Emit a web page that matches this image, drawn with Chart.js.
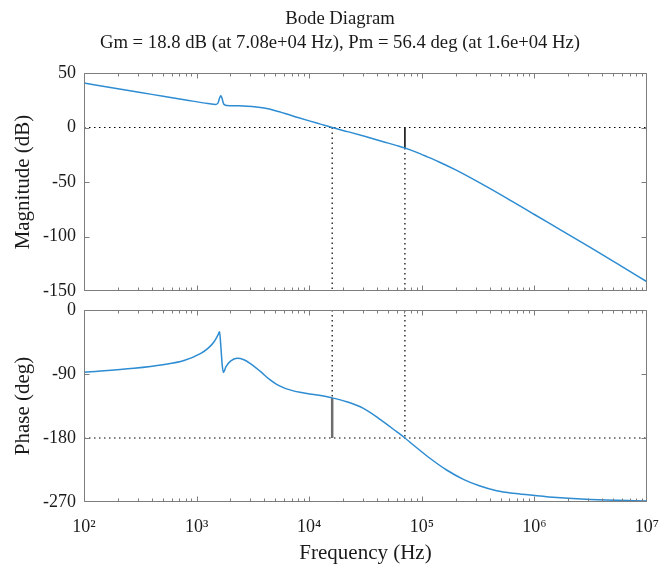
<!DOCTYPE html>
<html>
<head>
<meta charset="utf-8">
<script src="https://cdn.jsdelivr.net/npm/chart.js@4.4.0/dist/chart.umd.min.js"></script>
<style>
html,body{margin:0;padding:0;background:#fff;overflow:hidden;width:659px;height:565px;}
#wrap{position:relative;width:659px;height:565px;overflow:hidden;background:#fff;}
#c1{position:absolute;left:0;top:0;}
#c2{position:absolute;left:0;top:290px;}
</style>
</head>
<body>
<div id="wrap">
<canvas id="c1" width="680" height="320"></canvas>
<canvas id="c2" width="680" height="275"></canvas>
</div>
<script>
// ---------- data ----------
const titleLines = ['Bode Diagram', 'Gm = 18.8 dB (at 7.08e+04 Hz), Pm = 56.4 deg (at 1.6e+04 Hz)'];

const magFreqHz = [100,200,400,800,1260,1480,1550,1600,1640,1680,1740,1860,2240,2820,3390,3980,5010,6310,7940,10000,12600,16000,22400,31600,44700,60300,70800,89100,112000,141000,200000,316000,562000,1000000,1780000,3160000,5620000,10000000];
const magDb = [40.8,35.5,30.4,25.3,22.0,21.2,22.5,27,29.2,27,21.5,20.2,19.9,19.6,18.9,17.8,15.4,12.4,9.2,6.1,3.1,0,-4.0,-8.3,-12.8,-16.6,-18.8,-22.6,-26.9,-31.4,-38.9,-49.9,-64.5,-79.8,-95,-110.3,-125.8,-141.5];

const phaseFreqHz = [100,278,501,773,1090,1260,1430,1550,1600,1640,1690,1730,1820,2000,2290,2630,2980,3660,4470,5140,5970,6750,8280,11700,16000,21500,30300,42600,59800,70800,84100,118000,166000,234000,329000,462000,650000,914000,1580000,3160000,10000000];
const phaseDeg = [-87.7,-82,-77,-71,-61,-54,-44.6,-35,-30.5,-50,-78,-88,-80,-72,-68,-70,-75,-86,-98,-104.5,-109.5,-112.3,-115.8,-119.5,-123.6,-129,-138.3,-153.7,-171.1,-180,-189.8,-208.5,-225,-238.1,-247.5,-254.1,-257.8,-260.2,-263.8,-266.5,-268.6];

const xTickHz = [1e2,1e3,1e4,1e5,1e6,1e7];
const xTickLabels = ['10\u00B2','10\u00B3','10\u2074','10\u2075','10\u2076','10\u2077'];
const magTicks = [-150,-100,-50,0,50];
const phaseTicks = [-270,-180,-90,0];

const gmDb = 18.8, gmFreqHz = 70800;
const pmDeg = 56.4, pmFreqHz = 16000;
const phaseRef = -180;

// ---------- styling ----------
const SERIF = "'Liberation Serif','Times New Roman','DejaVu Serif',serif";
const TXT = '#1a1a1a';
const AX = '#7d7d7d';
const CURVE = 'rgb(45,140,210)';
const DOT = {borderColor:'#000', borderWidth:1.2, borderDash:[1.5,3.5], pointRadius:0, fill:false};

const frame = {
  id: 'frame',
  afterDraw(chart) {
    const {ctx, chartArea: a} = chart;
    const xs = chart.scales.x, ys = chart.scales.y;
    const L = Math.round(a.left) + 0.5, R = Math.round(a.right) - 0.5;
    const T = Math.round(a.top) + 0.5, B = Math.round(a.bottom) - 0.5;
    const cx = p => Math.min(Math.max(p, L), R);
    const cy = p => Math.min(Math.max(p, T), B);
    ctx.save();
    ctx.strokeStyle = AX;
    ctx.lineWidth = 1;
    ctx.beginPath();
    ctx.rect(L, T, R - L, B - T);
    const majors = xs.ticks.map(t => t.value);
    majors.forEach((v, i) => {
      const px = cx(Math.round(xs.getPixelForValue(v)) + 0.5);
      ctx.moveTo(px, B); ctx.lineTo(px, B - 5);
      ctx.moveTo(px, T); ctx.lineTo(px, T + 5);
      if (i < majors.length - 1) {
        for (let m = 2; m < 10; m++) {
          const q = cx(Math.round(xs.getPixelForValue(v * m)) + 0.5);
          ctx.moveTo(q, B); ctx.lineTo(q, B - 3);
          ctx.moveTo(q, T); ctx.lineTo(q, T + 3);
        }
      }
    });
    ys.ticks.forEach(t => {
      const py = cy(Math.round(ys.getPixelForValue(t.value)) + 0.5);
      ctx.moveTo(L, py); ctx.lineTo(L + 5, py);
      ctx.moveTo(R, py); ctx.lineTo(R - 5, py);
    });
    ctx.stroke();
    ctx.restore();
  }
};

const xMin = xTickHz[0], xMax = xTickHz[xTickHz.length - 1];
const pts = (xs, ys) => xs.map((x, i) => ({x: x, y: ys[i]}));

function yAxis(ticksArr, title) {
  return {
    position: 'left',
    min: ticksArr[0], max: ticksArr[ticksArr.length - 1],
    afterBuildTicks: s => { s.ticks = ticksArr.map(v => ({value: v})); },
    ticks: {color: TXT, padding: 8, font: {family: SERIF, size: 18}, callback: v => String(v)},
    grid: {display: false, drawTicks: false},
    border: {display: false},
    title: {display: true, text: title, color: TXT, font: {family: SERIF, size: 21, lineHeight: 1}, padding: {top: 12.9, bottom: 0}},
    afterFit: s => { s.width = 84; }
  };
}
const rightDummy = {
  position: 'right', display: true,
  ticks: {display: false}, grid: {display: false, drawTicks: false}, border: {display: false},
  afterFit: s => { s.width = 33; }
};

// ---------- magnitude ----------
const magMin = magTicks[0], magMax = magTicks[magTicks.length - 1];
new Chart(document.getElementById('c1'), {
  type: 'line',
  data: {
    datasets: [
      {label: 'Magnitude', data: pts(magFreqHz, magDb), borderColor: CURVE, borderWidth: 1.5, pointRadius: 0, cubicInterpolationMode: 'monotone', fill: false},
      Object.assign({label: '0 dB', data: [{x: xMin, y: 0}, {x: xMax, y: 0}]}, DOT),
      {label: 'Gm', data: [{x: gmFreqHz, y: 0}, {x: gmFreqHz, y: -gmDb}], borderColor: '#000', borderWidth: 1.5, pointRadius: 0},
      Object.assign({label: 'Gm guide', data: [{x: gmFreqHz, y: -gmDb}, {x: gmFreqHz, y: magMin}]}, DOT),
      Object.assign({label: 'Pm guide', data: [{x: pmFreqHz, y: 0}, {x: pmFreqHz, y: magMin}]}, DOT)
    ]
  },
  options: {
    responsive: false, animation: false,
    layout: {padding: {left: 0, right: 0, top: 0, bottom: 29}},
    plugins: {
      legend: {display: false}, tooltip: {enabled: false},
      title: {display: true, text: titleLines, color: TXT,
        font: {family: SERIF, size: 18.7, weight: 'normal', lineHeight: 1.257},
        padding: {top: 7.5, bottom: 18.5}}
    },
    scales: {
      x: {type: 'logarithmic', min: xMin, max: xMax,
        afterBuildTicks: s => { s.ticks = xTickHz.map(v => ({value: v})); },
        ticks: {display: false}, grid: {display: false, drawTicks: false}, border: {display: false},
        afterFit: s => { s.height = 0; }},
      y: yAxis(magTicks, 'Magnitude (dB)'),
      yR: rightDummy
    }
  },
  plugins: [frame]
});

// ---------- phase ----------
const phMin = phaseTicks[0], phMax = phaseTicks[phaseTicks.length - 1];
const phAtPm = phaseRef + pmDeg;
new Chart(document.getElementById('c2'), {
  type: 'line',
  data: {
    datasets: [
      {label: 'Phase', data: pts(phaseFreqHz, phaseDeg), borderColor: CURVE, borderWidth: 1.5, pointRadius: 0, cubicInterpolationMode: 'monotone', fill: false},
      Object.assign({label: '-180 deg', data: [{x: xMin, y: phaseRef}, {x: xMax, y: phaseRef}]}, DOT),
      {label: 'Pm', data: [{x: pmFreqHz, y: phAtPm}, {x: pmFreqHz, y: phaseRef}], borderColor: '#6e6e6e', borderWidth: 2.5, pointRadius: 0},
      Object.assign({label: 'Pm guide', data: [{x: pmFreqHz, y: phMax}, {x: pmFreqHz, y: phAtPm}]}, DOT),
      Object.assign({label: 'Gm guide', data: [{x: gmFreqHz, y: phMax}, {x: gmFreqHz, y: phaseRef}]}, DOT)
    ]
  },
  options: {
    responsive: false, animation: false,
    layout: {padding: {left: 0, right: 0, top: 20, bottom: 0}},
    plugins: {legend: {display: false}, tooltip: {enabled: false}},
    scales: {
      x: {type: 'logarithmic', min: xMin, max: xMax,
        afterBuildTicks: s => { s.ticks = xTickHz.map(v => ({value: v})); },
        ticks: {color: TXT, padding: 14.2, maxRotation: 0, autoSkip: false, font: {family: SERIF, size: 18},
          callback: (v, i) => xTickLabels[i]},
        grid: {display: false, drawTicks: false}, border: {display: false},
        title: {display: true, text: 'Frequency (Hz)', color: TXT, font: {family: SERIF, size: 21, lineHeight: 1}, padding: {top: 0, bottom: 1}},
        afterFit: s => { s.height = 63; }},
      y: yAxis(phaseTicks, 'Phase (deg)'),
      yR: rightDummy
    }
  },
  plugins: [frame]
});
</script>
</body>
</html>
